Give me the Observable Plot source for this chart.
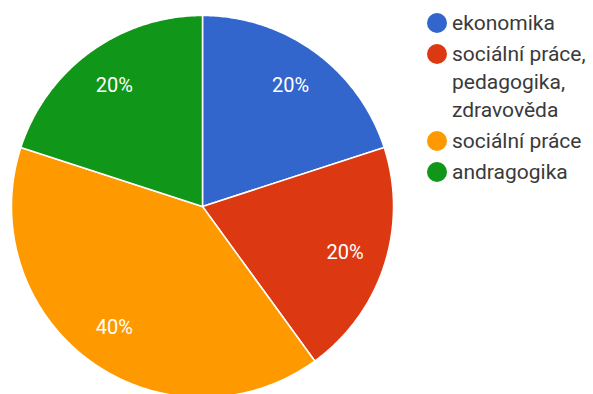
<!DOCTYPE html>
<html>
<head>
<meta charset="utf-8">
<script src="https://cdn.jsdelivr.net/npm/d3@7"></script>
<script src="https://cdn.jsdelivr.net/npm/@observablehq/plot@0.6"></script>
<style>
  html, body { margin: 0; padding: 0; background: #fff; overflow: hidden; }
  #wrap { position: relative; width: 593px; height: 394px; }
  #wrap svg { overflow: hidden; }
  #legend { position: absolute; left: 427px; top: 9px; font-family: Roboto, "Noto Sans", sans-serif; font-size: 21px; color: #3a3a3a; }
  .item { display: flex; align-items: flex-start; margin-bottom: 3px; }
  .dot { width: 20px; height: 20px; border-radius: 50%; flex: none; margin-top: 4px; margin-right: 5px; }
  .lbl { line-height: 28px; }
</style>
</head>
<body>
<div id="wrap"><div id="legend"></div></div>
<script>
const categories = ["ekonomika", "sociální práce, pedagogika, zdravověda", "sociální práce", "andragogika"];
const legendLines = [["ekonomika"], ["sociální práce,", "pedagogika,", "zdravověda"], ["sociální práce"], ["andragogika"]];
const values = [20, 20, 40, 20];
const colors = ["#3366cc", "#dc3912", "#ff9900", "#109618"];

const W = 593, H = 394, cx = 202, cy = 206, R = 191;
const total = d3.sum(values);
const arcs = d3.pie().sort(null).value(d => d)(values);

// slice outlines in radius units (y up)
const slicePts = [];
arcs.forEach((a, i) => {
  const cat = categories[i];
  slicePts.push({cat, x: 0, y: 0});
  const n = Math.max(2, Math.ceil((a.endAngle - a.startAngle) / 0.01));
  for (let k = 0; k <= n; k++) {
    const t = a.startAngle + (a.endAngle - a.startAngle) * k / n;
    slicePts.push({cat, x: Math.sin(t), y: Math.cos(t)});
  }
  slicePts.push({cat, x: 0, y: 0});
});

const labels = arcs.map((a, i) => {
  const m = (a.startAngle + a.endAngle) / 2;
  const r = 0.785;
  return {cat: categories[i], x: r * Math.sin(m), y: r * Math.cos(m), text: Math.round(values[i] / total * 100) + "%"};
});

const chart = Plot.plot({
  width: W, height: H,
  marginTop: 0, marginRight: 0, marginBottom: 0, marginLeft: 0,
  x: {type: "linear", domain: [-cx / R, (W - cx) / R], axis: null},
  y: {type: "linear", domain: [-(H - cy) / R, cy / R], axis: null},
  color: {domain: categories, range: colors},
  style: {fontFamily: "Roboto, sans-serif", background: "white"},
  marks: [
    Plot.line(slicePts, {x: "x", y: "y", z: "cat", fill: "cat", stroke: "white", strokeWidth: 1.5, strokeLinejoin: "round", curve: "linear"}),
    Plot.text(labels, {x: "x", y: "y", text: "text", fill: "white", fontSize: 20, fontFamily: "Roboto, sans-serif", textAnchor: "middle"})
  ]
});
document.getElementById("wrap").prepend(chart);

const legend = document.getElementById("legend");
categories.forEach((c, i) => {
  const item = document.createElement("div");
  item.className = "item";
  const dot = document.createElement("div");
  dot.className = "dot";
  dot.style.background = colors[i];
  const lbl = document.createElement("div");
  lbl.className = "lbl";
  lbl.innerHTML = legendLines[i].join("<br>");
  item.append(dot, lbl);
  legend.append(item);
});
</script>
</body>
</html>
